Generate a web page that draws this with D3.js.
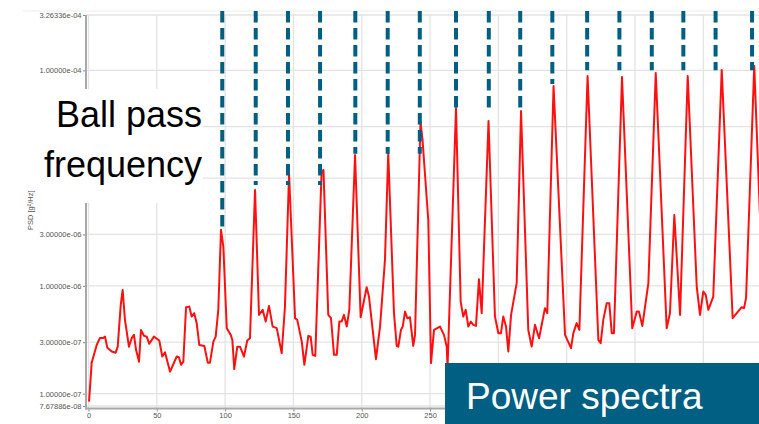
<!DOCTYPE html>
<html><head><meta charset="utf-8">
<script src="https://cdn.jsdelivr.net/npm/d3@7"></script>
<style>
body{margin:0;background:#fff;overflow:hidden}
svg{display:block}
text{font-family:"Liberation Sans",Arial,sans-serif}
</style>
</head><body>
<svg id="c" width="759" height="424"></svg>
<script>
// ---- data ----
const freqHz = [0.4,2.3,6.0,8.4,10.8,12.1,13.8,17.0,19.9,21.4,23.6,25.0,26.7,29.6,31.6,33.3,34.8,37.0,38.4,40.6,42.6,44.5,47.9,51.8,54.0,56.0,59.7,64.6,66.2,67.7,69.4,71.4,73.8,75.5,77.4,79.2,81.1,84.8,87.3,88.9,91.4,93.1,95.0,97.0,98.7,101.2,104.1,105.3,106.7,108.9,110.9,113.8,116.2,118.2,121.9,124.8,127.5,129.7,132.1,134.8,137.8,141.4,143.8,146.8,151.2,152.8,156.1,158.0,160.9,162.6,164.1,166.0,170.6,172.0,175.5,177.5,179.7,181.7,183.6,185.3,187.0,189.0,190.9,195.1,199.2,203.6,205.3,210.4,213.4,217.0,219.4,223.6,225.6,226.8,228.7,230.0,231.7,233.4,235.3,237.7,239.0,243.0,244.5,248.7,250.7,252.9,257.3,260.2,262.2,262.8,269.0,272.4,274.3,276.1,278.0,279.8,281.7,283.6,285.8,286.8,287.8,292.8,297.5,300.0,301.9,303.6,305.6,307.3,309.3,313.4,316.6,321.9,324.4,326.8,329.8,334.1,335.8,340.4,348.8,353.2,354.9,357.3,359.3,365.3,373.2,374.9,376.8,379.3,381.2,383.0,384.6,390.5,398.0,401.3,402.9,405.4,409.8,415.2,423.2,425.6,428.8,433.0,438.6,445.2,447.6,450.0,451.8,453.7,457.3,463.5,471.5,474.5,478.1,479.8,481.3,487.3,491.5,494.0];
const psd = [8.44e-8,1.93e-7,2.83e-7,3.29e-7,3.29e-7,3.38e-7,2.66e-7,2.46e-7,2.40e-7,2.73e-7,6.66e-7,9.18e-7,4.84e-7,2.73e-7,3.27e-7,3.51e-7,2.55e-7,1.98e-7,3.90e-7,3.44e-7,3.38e-7,2.90e-7,3.38e-7,3.11e-7,2.21e-7,2.42e-7,1.60e-7,2.21e-7,2.18e-7,1.85e-7,1.98e-7,6.34e-7,6.42e-7,5.19e-7,5.58e-7,4.51e-7,2.83e-7,2.77e-7,1.94e-7,1.94e-7,3.04e-7,3.38e-7,5.99e-7,3.31e-6,2.31e-6,4.05e-7,3.51e-7,3.15e-7,1.69e-7,2.73e-7,2.73e-7,2.21e-7,3.11e-7,3.27e-7,7.77e-6,5.38e-7,5.99e-7,4.66e-7,6.52e-7,4.19e-7,4.05e-7,2.37e-7,6.42e-7,1.09e-5,5.01e-7,4.84e-7,3.04e-7,1.85e-7,3.44e-7,3.38e-7,2.29e-7,2.24e-7,1.14e-5,1.19e-5,5.38e-7,5.01e-7,2.29e-7,2.29e-7,4.66e-7,4.66e-7,5.38e-7,4.19e-7,5.99e-7,1.64e-5,5.12e-7,9.72e-7,7.95e-7,2.09e-7,4.19e-7,1.74e-6,1.71e-5,5.58e-7,2.77e-7,2.73e-7,3.90e-7,4.19e-7,5.77e-7,5.01e-7,5.12e-7,2.77e-7,3.51e-7,3.32e-5,2.26e-5,4.09e-6,1.92e-7,3.90e-7,4.19e-7,3.51e-7,2.73e-7,1.73e-7,4.48e-5,7.15e-7,5.19e-7,5.99e-7,4.19e-7,4.66e-7,4.35e-7,4.25e-7,1.15e-6,7.95e-7,5.58e-7,3.39e-5,5.19e-7,3.64e-7,3.64e-7,5.19e-7,4.19e-7,2.46e-7,5.38e-7,1.06e-6,4.20e-5,3.90e-7,2.73e-7,4.35e-7,3.27e-7,6.21e-7,5.58e-7,7.16e-5,3.51e-7,2.64e-7,3.64e-7,4.51e-7,3.90e-7,8.87e-5,3.15e-7,2.94e-7,4.84e-7,6.91e-7,6.91e-7,3.64e-7,3.64e-7,8.68e-5,4.05e-7,5.77e-7,5.77e-7,4.25e-7,1.06e-6,9.46e-5,4.05e-7,5.58e-7,4.55e-6,5.38e-7,8.87e-5,9.85e-7,5.38e-7,8.85e-7,8.25e-7,5.99e-7,7.95e-7,1.01e-4,5.01e-7,5.58e-7,6.34e-7,6.21e-7,7.69e-7,1.10e-4,4.46e-6,6.0e-7];

const bpfHz  = [97.9,122.4,146.0,169.5,195.3,219.0,242.5,269.0,293.0,316.0,339.5,365.0,388.6,412.3,435.4,459.0,485.7];
const bpfEnd = [3.52e-6,8.65e-6,8.65e-6,8.65e-6,1.68e-5,1.68e-5,1.68e-5,4.29e-5,4.29e-5,4.29e-5,7.47e-5,1e-4,1e-4,1e-4,1e-4,1e-4,1e-4];

const yGridValues = [3.26336e-4,1e-4,3e-5,1e-5,3e-6,1e-6,3e-7,1e-7,7.67886e-8];
const yLabelValues = [3.26336e-4,1e-4,3e-6,1e-6,3e-7,1e-7,7.67886e-8];
const yTickLabels = ["3.26336e-04","1.00000e-04","3.00000e-06","1.00000e-06","3.00000e-07","1.00000e-07","7.67886e-08"];
const xGridValues = [0,50,100,150,200,250,300,350,400,450,500];
const xLabelValues = [0,50,100,150,200,250];
const xTitle = "Frequency [Hz]";
const yTitle = "PSD [g²/Hz]";
const annotationLines = ["Ball pass","frequency"];
const boxTitle = "Power spectra";

// ---- drawing ----
const svg = d3.select("#c");
const x = d3.scaleLinear().domain([0,500]).range([88.5,771.6]);
const y = d3.scaleLog().domain([7.67886e-8,3.26336e-4]).range([406,15]);
const BLUE = "#005f83";

svg.append("line").attr("x1",23).attr("x2",759).attr("y1",11).attr("y2",11)
  .attr("stroke","#ececec").attr("stroke-width",1);

// grid
svg.append("g").selectAll("line").data(yGridValues).join("line")
  .attr("x1",86).attr("x2",759).attr("y1",d=>y(d)).attr("y2",d=>y(d))
  .attr("stroke","#e3e3e3").attr("stroke-width",1.3);
svg.append("g").selectAll("line").data(xGridValues).join("line")
  .attr("x1",d=>x(d)).attr("x2",d=>x(d)).attr("y1",15).attr("y2",408)
  .attr("stroke","#e3e3e3").attr("stroke-width",1.3);

// axes
const yAx = svg.append("g").attr("transform","translate(86,0)")
  .call(d3.axisLeft(y).tickValues(yLabelValues).tickSize(3).tickPadding(1.5)
    .tickFormat((d,i)=>yTickLabels[i]));
const xAx = svg.append("g").attr("transform","translate(0,408.5)")
  .call(d3.axisBottom(x).tickValues(xLabelValues).tickSize(3).tickPadding(1)
    .tickFormat(d=>d));
[yAx,xAx].forEach(g=>{
  g.select(".domain").remove();
  g.selectAll("line").attr("stroke","#888");
  g.selectAll("text").attr("fill","#555").style("font-size","7.5px")
   .style("font-family","'Liberation Sans',Arial,sans-serif");
});
svg.append("line").attr("x1",86).attr("x2",86).attr("y1",15).attr("y2",409.5)
  .attr("stroke","#a8a8a8").attr("stroke-width",2);
svg.append("line").attr("x1",85).attr("x2",759).attr("y1",408.5).attr("y2",408.5)
  .attr("stroke","#a8a8a8").attr("stroke-width",2);

svg.append("text").attr("x",406).attr("y",428.5).attr("fill","#555")
  .style("font-size","8px").text(xTitle);
svg.append("text").attr("transform","translate(33,230) rotate(-90)")
  .attr("fill","#555").style("font-size","7.5px").text(yTitle);

// spectrum
svg.append("defs").append("clipPath").attr("id","pc").append("rect")
  .attr("x",86).attr("y",0).attr("width",680).attr("height",408);
const pts = freqHz.map((f,i)=>[f,psd[i]]);
svg.append("path").datum(pts).attr("clip-path","url(#pc)")
  .attr("d",d3.line().x(d=>x(d[0])).y(d=>y(d[1])))
  .attr("fill","none").attr("stroke","#ff1010").attr("stroke-width",2)
  .attr("stroke-linejoin","round");

// ball pass harmonic markers
svg.append("g").selectAll("line").data(bpfHz).join("line")
  .attr("x1",d=>x(d)).attr("x2",d=>x(d)).attr("y1",11).attr("y2",(d,i)=>y(bpfEnd[i]))
  .attr("stroke",BLUE).attr("stroke-width",4).attr("stroke-dasharray","11.5 5.5");

// annotation box
svg.append("rect").attr("x",0).attr("y",89).attr("width",203).attr("height",99).attr("fill","#fff");
svg.append("rect").attr("x",45).attr("y",188).attr("width",158).attr("height",15).attr("fill","#fff");
svg.append("g").selectAll("text").data(annotationLines).join("text")
  .attr("x",202).attr("y",(d,i)=>127+i*50).attr("text-anchor","end")
  .attr("fill","#000").style("font-size","36px").text(d=>d);

// title box
svg.append("rect").attr("x",445).attr("y",363).attr("width",314).attr("height",61).attr("fill",BLUE);
svg.append("text").attr("x",466).attr("y",409).attr("fill","#fff")
  .style("font-size","37px").text(boxTitle);
</script>
</body></html>
